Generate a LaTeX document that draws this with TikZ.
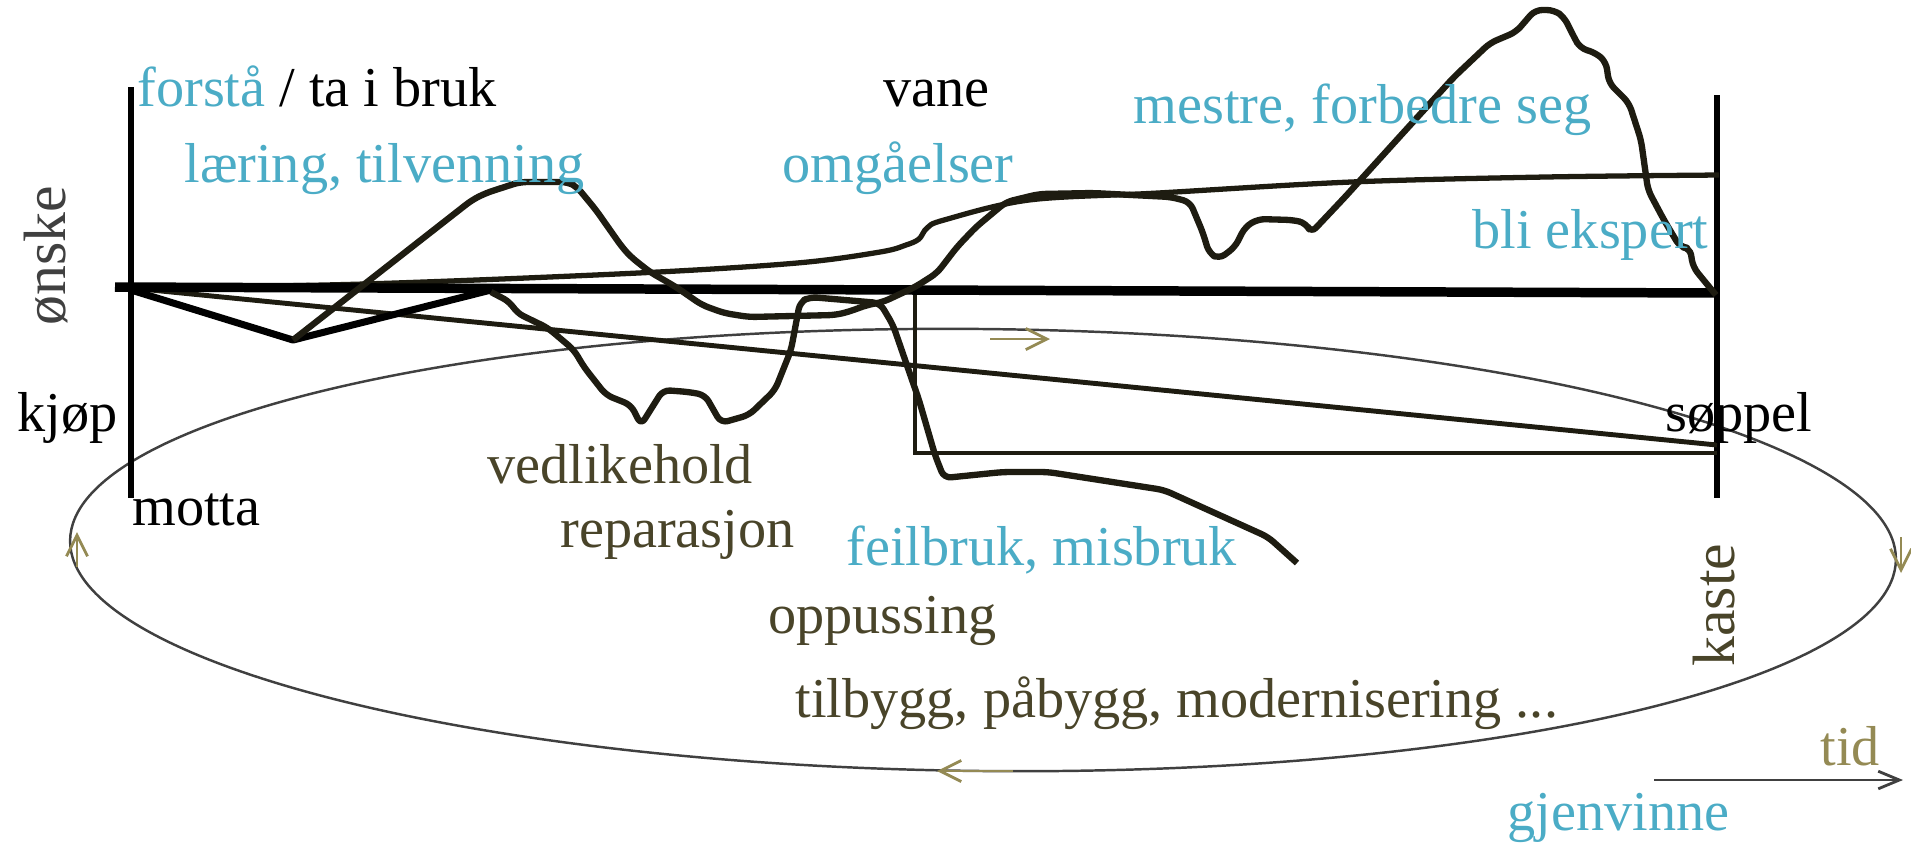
\documentclass[tikz,border=0pt]{standalone}
\usepackage{fontspec}
\setmainfont{Liberation Serif}
\usetikzlibrary{arrows.meta}
\definecolor{blaa}{HTML}{4BACC6}
\definecolor{oliven}{HTML}{494429}
\definecolor{lysoliven}{HTML}{948A54}
\definecolor{strek}{HTML}{1E1C11}
\definecolor{graa}{HTML}{404040}
\tikzset{
  ord/.style={inner sep=0pt, anchor=base west, font=\fontsize{16}{19}\selectfont},
  stående/.style={inner sep=0pt, rotate=90, font=\fontsize{17}{19}\selectfont},
  pil/.style={-{Straight Barb[length=6pt,width=6pt]}, lysoliven, line width=0.8pt},
  kurve/.style={strek, line width=1.8pt, line join=round, rounded corners=2pt},
}

\begin{document}
\begin{tikzpicture}[>=Stealth, thick, x=0.01cm, y=-0.01cm]
    \useasboundingbox (0,0) rectangle (1911,847);

    % 椭圆 (循环) 与小箭头
    \draw[graa, line width=0.7pt, rotate around={-0.6:(983,550)}] (983,550) ellipse [x radius=913, y radius=221];
    \draw[pil] (990,339) -- (1050,339);
    \draw[pil] (1901,537) -- (1901,573);
    \draw[pil] (1013,771) -- (937,771);
    \draw[pil] (77,567) -- (77,532);

    % 两条竖线
    \draw[black, line width=1.7pt] (131,87) -- (131,498);
    \draw[black, line width=1.7pt] (1717,95) -- (1717,498);

    % 上升的细曲线
    \draw[strek, line width=1.5pt] plot[smooth, tension=0.55] coordinates {(131,288) (364,284) (638,273) (797,263) (880,252) (906,245) (919,239) (927,228) (944,220) (1029,200) (1158,193) (1351,182) (1545,177) (1719,175)};

    % 斜线与矩形
    \draw[strek, line width=1.4pt] (131,288) -- (1717,445);
    \draw[strek, line width=1.4pt] (915,288) -- (915,453) -- (1717,453);

    % 粗横线
    \draw[black, line width=2.7pt] (115,287) -- (1719,293);

    % 左侧 V 形
    \draw[black, line width=2pt, line join=round] (131,290) -- (293,340) -- (491,290);

    % 大曲线 (山峰)
    \draw[kurve] (293,340) -- (472,200) -- (486,193) -- (520,182) -- (568,182) -- (577,187) -- (596,210)
      -- (603,220) -- (622,247) -- (631,257) -- (650,272) -- (676,287) -- (702,305) -- (724,313)
      -- (749,317) -- (835,315) -- (848,312) -- (867,305) -- (883,302) -- (915,287) -- (937,273)
      -- (957,247) -- (976,227) -- (1006,202) -- (1039,194) -- (1093,193) -- (1171,197) -- (1190,202)
      -- (1203,233) -- (1209,253) -- (1219,259) -- (1235,247) -- (1245,227) -- (1258,219) -- (1293,220)
      -- (1306,223) -- (1311,233) -- (1345,197) -- (1403,133) -- (1454,77) -- (1490,43) -- (1516,32)
      -- (1535,10) -- (1554,10) -- (1564,17) -- (1574,37) -- (1580,48) -- (1596,53) -- (1606,62)
      -- (1609,83) -- (1629,103) -- (1641,140) -- (1648,190) -- (1664,220) -- (1680,247) -- (1690,248)
      -- (1693,267) -- (1706,283) -- (1716,295);

    % 下凹曲线与误用
    \draw[kurve] (491,292) -- (510,302) -- (517,313) -- (548,328) -- (574,350) -- (584,367) -- (606,395)
      -- (631,405) -- (641,425) -- (663,390) -- (689,392) -- (705,395) -- (721,423) -- (749,415)
      -- (775,390) -- (791,350) -- (800,302) -- (810,297) -- (880,303) -- (893,325) -- (919,400)
      -- (935,455) -- (944,478) -- (1003,472) -- (1048,472) -- (1164,490) -- (1268,537) -- (1297,563);

    % 时间箭头
    \draw[graa, line width=0.8pt, -{Straight Barb[length=6pt,width=5pt]}] (1654,780) -- (1903,780);

    % 文字
    \node[ord] (forsta) at (136,106) {\textcolor{blaa}{forstå} \textcolor{black}{/ ta i bruk}};
    \node[ord, blaa] (laering) at (183,182) {læring, tilvenning};
    \node[ord, black] (vane) at (882,106) {vane};
    \node[ord, blaa] (omgaaelser) at (781,182) {omgåelser};
    \node[ord, blaa] (mestre) at (1132,123) {mestre, forbedre seg};
    \node[ord, blaa] (ekspert) at (1471,248) {bli ekspert};
    \node[stående, graa] (onske) at (46,256) {ønske};
    \node[ord, black] (kjop) at (16,431) {kjøp};
    \node[ord, black] (soppel) at (1664,431) {søppel};
    \node[ord, black] (motta) at (131,525) {motta};
    \node[ord, oliven] (vedlikehold) at (486,483) {vedlikehold};
    \node[ord, oliven] (reparasjon) at (559,547) {reparasjon};
    \node[ord, blaa] (feilbruk) at (845,565) {feilbruk, misbruk};
    \node[ord, oliven] (oppussing) at (767,633) {oppussing};
    \node[ord, oliven] (tilbygg) at (794,717) {tilbygg, påbygg, modernisering ...};
    \node[stående, oliven] (kaste) at (1714,605) {kaste};
    \node[ord, lysoliven] (tid) at (1819,765) {tid};
    \node[ord, blaa] (gjenvinne) at (1506,830) {gjenvinne};
\end{tikzpicture}
\end{document}
